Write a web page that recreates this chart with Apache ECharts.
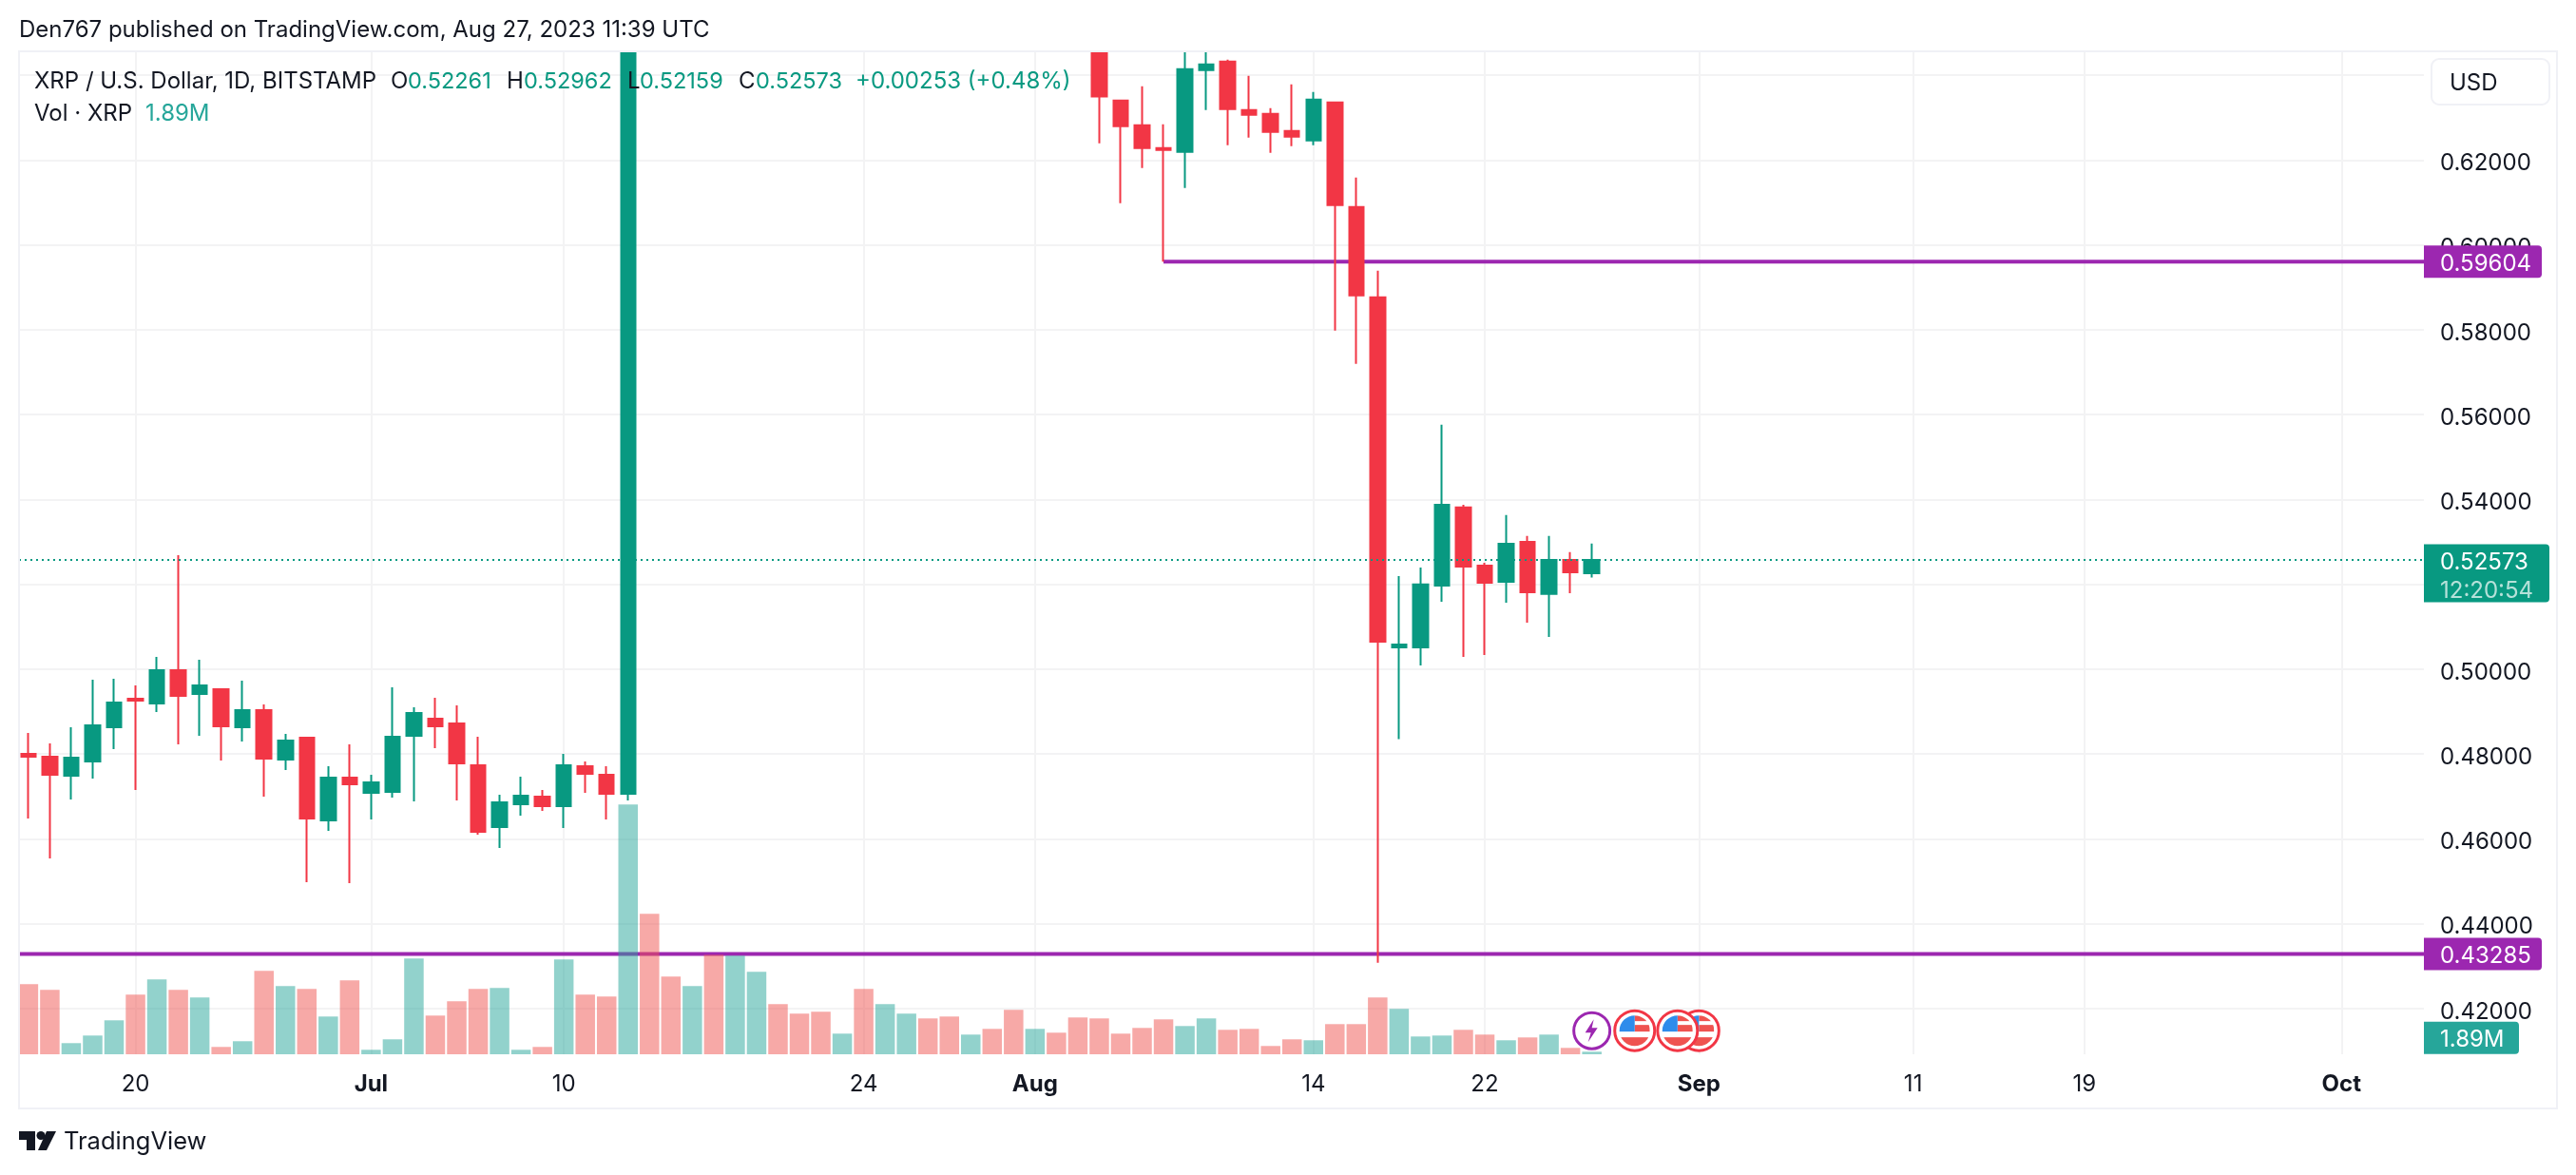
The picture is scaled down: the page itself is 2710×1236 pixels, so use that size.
<!DOCTYPE html>
<html>
<head>
<meta charset="utf-8">
<script src="https://cdn.jsdelivr.net/npm/echarts@6/dist/echarts.min.js"></script>
<style>
  html, body { margin: 0; background: #fff; }
  #chart { width: 2710px; height: 1236px; }
</style>
</head>
<body>
<div id="chart"></div>
<script>
// day numbers count from Jun 15 2023; candles for days 29-49 are above the visible price range
const candleDays = [0,1,2,3,4,5,6,7,8,9,10,11,12,13,14,15,16,17,18,19,20,21,22,23,24,25,26,27,28,
  50,51,52,53,54,55,56,57,58,59,60,61,62,63,64,65,66,67,68,69,70,71,72,73];
const opens = [.48006,.47938,.4749,.47826,.48633,.49305,.49193,.49978,.49417,.4953,.48633,.49037,.47871,.48387,.46437,.47445,.47087,.47109,.48431,.48835,.48723,.47737,.4628,.46818,.46997,.46773,.47714,.47513,.47064,
  .648,.63402,.62819,.62281,.62191,.64119,.6432,.63177,.63088,.62684,.6246,.63357,.60892,.58763,.50516,.50516,.51972,.5381,.52443,.52062,.53003,.51771,.52577,.52261];
const closes = [.47938,.47513,.47916,.48678,.49216,.49261,.49978,.49373,.49619,.48656,.49037,.47894,.48319,.46482,.47445,.47289,.47333,.48409,.48969,.48656,.47782,.46168,.46863,.4702,.46773,.47737,.47535,.47064,.8,
  .63499,.62797,.62281,.62237,.64141,.64253,.632,.63065,.62662,.6255,.63424,.60936,.58807,.5065,.50583,.51995,.53877,.5242,.52039,.52958,.51815,.52577,.52286,.52573];
const lows = [.46482,.45541,.4693,.47423,.48118,.47154,.48992,.4823,.48431,.47849,.48297,.46997,.47625,.4498,.4619,.44958,.46459,.46975,.46885,.4814,.46908,.46101,.45787,.46549,.46661,.46258,.47087,.46459,.46908,
  .62393,.60981,.6181,.59604,.6134,.63177,.62348,.62528,.62169,.62326,.62348,.5798,.57194,.4308,.4835,.5009,.51591,.50291,.50336,.51569,.51098,.50762,.51793,.52159];
const highs = [.48499,.48252,.48633,.49754,.49776,.49619,.50291,.52689,.50224,.4953,.49731,.49171,.48476,.48387,.47714,.4823,.47513,.49574,.49104,.49328,.49149,.48409,.47042,.47468,.47154,.48006,.47826,.47714,.93,
  .652,.63424,.63738,.62841,.6475,.6465,.64365,.63984,.63222,.63783,.63603,.63379,.61586,.5939,.52196,.52398,.5576,.53877,.5251,.53631,.53138,.53138,.52757,.52962];

// volume in millions, one per day from day 0 to day 73
const volumes = [51.6,47.4,8.2,13.8,25,43.9,55.1,47.4,41.8,5.4,9.6,61.4,50.2,48.1,27.8,54.4,3.3,11,70.5,28.5,39,48.1,48.8,3.3,5.4,69.8,43.9,42.5,183.9,103.4,
  57.2,50.2,73.3,72.6,60.7,36.9,29.9,31.3,15.2,48.1,36.9,29.9,26.4,27.8,14.5,18.7,32.7,18.7,15.9,27.1,26.4,15.2,19.4,25.7,20.8,26.4,18,18.7,6.1,11,
  10.3,22.2,22.2,41.8,33.4,13.1,13.8,18,14.5,10.3,12.4,14.5,4.7,1.89];
const volumeUp = [0,0,1,1,1,0,1,0,1,0,1,0,1,0,1,0,1,1,1,0,0,0,1,1,0,1,0,0,1,0,
  0,1,0,1,1,0,0,0,1,0,1,1,0,0,1,0,0,1,0,0,0,0,0,0,1,1,0,0,0,0,
  1,0,0,0,1,1,1,0,0,1,0,1,0,1];

const xTickDays = [5,16,25,39,47,60,68,78,88,96,108];
const xTickLabels = ['20','Jul','10','24','Aug','14','22','Sep','11','19','Oct'];
const monthLabels = ['Jul','Aug','Sep','Oct'];
const priceGrid = [.42,.44,.46,.48,.5,.52,.54,.56,.58,.6,.62,.64];
const priceLabels = [.42,.44,.46,.48,.5,.52,.54,.56,.58,.6,.62];

const upperLevel = 0.59604, upperLevelStart = 53;
const lowerLevel = 0.43285;
const lastPrice = 0.52573, countdown = '12:20:54', lastVolume = '1.89M';
const boltDay = 73, flagDays = [78,77,75], eventPrice = 0.4148;

const GREEN = '#089981', RED = '#F23645', PURPLE = '#9C27B0', TEAL = '#26A69A', INK = '#131722';
const FONT = 'Inter';
const xMin = -0.439, xMax = 111.85;

function flagSvg() {
  return 'image://data:image/svg+xml,' + encodeURIComponent(
    '<svg xmlns="http://www.w3.org/2000/svg" width="92" height="92" viewBox="0 0 46 46">' +
    '<defs><clipPath id="c"><circle cx="23" cy="23" r="16"/></clipPath></defs>' +
    '<circle cx="23" cy="23" r="21" fill="#fff" stroke="#F23645" stroke-width="3"/>' +
    '<g clip-path="url(#c)"><rect x="23" y="7" width="16" height="6" fill="#EF5350"/>' +
    '<rect x="23" y="17" width="16" height="7" fill="#EF5350"/>' +
    '<rect x="5" y="30" width="36" height="10" fill="#EF5350"/>' +
    '<rect x="5" y="5" width="18" height="19" fill="#2F8CEB"/></g></svg>');
}
function boltSvg() {
  return 'image://data:image/svg+xml,' + encodeURIComponent(
    '<svg xmlns="http://www.w3.org/2000/svg" width="84" height="84" viewBox="0 0 42 42">' +
    '<circle cx="21" cy="21" r="19" fill="#fff" stroke="#9C27B0" stroke-width="3"/>' +
    '<path d="M23 9 L14 23 L20 23 L17 33 L27 18 L21 18 Z" fill="#9C27B0"/></svg>');
}

function txt(x, y, text, fill, size, weight) {
  return {
    type: 'text', x: x, y: y, z: 50,
    style: { text: text, fill: fill, font: (weight || 400) + ' ' + size + 'px ' + FONT, verticalAlign: 'middle' }
  };
}

const chart = echarts.init(document.getElementById('chart'));

const candleData = candleDays.map((d, i) => [d, opens[i], closes[i], lows[i], highs[i]]);
const volumeData = volumes.map((v, i) => ({
  value: [i, v],
  itemStyle: { color: volumeUp[i] ? 'rgba(38,166,154,0.5)' : 'rgba(239,83,80,0.5)' }
}));

function priceTag(y, text, bg, w, h, rich, offset) {
  return {
    value: [xMax, y],
    label: {
      show: true, position: 'right', distance: 0, offset: offset || [0, 0],
      formatter: text, backgroundColor: bg, color: '#fff', fontFamily: FONT, fontSize: 24,
      padding: [4, 0, 0, 17], width: w, height: h - 4, lineHeight: 30, align: 'left',
      verticalAlign: 'middle', borderRadius: [0, 4, 4, 0], rich: rich || {}
    }
  };
}

chart.setOption({
  animation: false,
  backgroundColor: '#fff',
  grid: { left: 20, right: 160, top: 55, bottom: 127, containLabel: false },
  xAxis: {
    type: 'value', min: xMin, max: xMax,
    axisLine: { show: false },
    axisTick: { show: false, customValues: xTickDays },
    splitLine: { show: true, lineStyle: { color: '#F3F3F4', width: 2 } },
    axisLabel: {
      customValues: xTickDays, margin: 20, color: INK, fontFamily: FONT, fontSize: 24,
      formatter: v => {
        const s = xTickLabels[xTickDays.indexOf(v)];
        return monthLabels.includes(s) ? '{b|' + s + '}' : s;
      },
      rich: { b: { fontFamily: FONT, fontSize: 24, fontWeight: 700, color: INK } }
    }
  },
  yAxis: [{
    type: 'value', position: 'right', min: 0.40923, max: 0.6454,
    axisLine: { show: false },
    axisTick: { show: false, customValues: priceGrid },
    splitLine: { show: true, lineStyle: { color: '#F3F3F4', width: 2 } },
    axisLabel: {
      customValues: priceLabels, margin: 17,
      formatter: v => '{p|' + v.toFixed(5) + '}',
      rich: { p: { color: INK, fontFamily: FONT, fontSize: 24, padding: [7, 0, 0, 0] } }
    }
  }, {
    type: 'value', min: 0, max: 738, show: false, splitLine: { show: false }
  }],
  series: [
    {
      type: 'line', z: 1, symbol: 'none', silent: true,
      lineStyle: { color: PURPLE, width: 4 },
      data: [[upperLevelStart, upperLevel], [xMax, upperLevel]]
    },
    {
      type: 'line', z: 1, symbol: 'none', silent: true,
      lineStyle: { color: PURPLE, width: 4 },
      data: [[xMin, lowerLevel], [xMax, lowerLevel]]
    },
    { type: 'bar', z: 2, yAxisIndex: 1, barWidth: 20.5, data: volumeData },
    {
      type: 'candlestick', z: 3, barWidth: 16,
      itemStyle: { color: GREEN, color0: RED, borderColor: GREEN, borderColor0: RED, borderWidth: 2 },
      data: candleData
    },
    {
      type: 'line', z: 4, symbol: 'none', silent: true,
      lineStyle: { color: GREEN, width: 2, type: [2, 4] },
      data: [[xMin, lastPrice], [xMax, lastPrice]]
    },
    {
      type: 'scatter', z: 5, symbolSize: 0, clip: false, silent: true,
      itemStyle: { opacity: 1 },
      data: [
        priceTag(upperLevel, upperLevel.toFixed(5), PURPLE, 107, 34),
        priceTag(lowerLevel, lowerLevel.toFixed(5), PURPLE, 107, 34),
        priceTag(lastPrice, '{p|' + lastPrice.toFixed(5) + '}\n{t|' + countdown + '}', GREEN, 115, 61, {
          p: { color: '#fff', fontFamily: FONT, fontSize: 24, lineHeight: 30 },
          t: { color: 'rgba(255,255,255,0.7)', fontFamily: FONT, fontSize: 24, lineHeight: 30 }
        }, [0, 14]),
        priceTag(0.41312, lastVolume, TEAL, 83, 34)
      ]
    },
    {
      type: 'scatter', z: 6, symbol: flagSvg(), symbolSize: 46, silent: true,
      itemStyle: { opacity: 1 },
      data: flagDays.map(d => [d, eventPrice])
    },
    {
      type: 'scatter', z: 6, symbol: boltSvg(), symbolSize: 42, silent: true,
      itemStyle: { opacity: 1 },
      data: [[boltDay, eventPrice]]
    }
  ],
  graphic: [
    // candles taller than the pane are only cut off by this strip
    { type: 'rect', z: 30, shape: { x: 0, y: 0, width: 2710, height: 54 }, style: { fill: '#fff' }, silent: true },
    { type: 'rect', z: 40, shape: { x: 20, y: 54, width: 2670, height: 1112 }, style: { fill: 'none', stroke: '#F0F1F6', lineWidth: 2 }, silent: true },
    { type: 'rect', z: 41, shape: { x: 2558, y: 62, width: 124, height: 48, r: 8 }, style: { fill: '#fff', stroke: '#F0F1F6', lineWidth: 2 }, silent: true },
    txt(2577, 88, 'USD', INK, 24),
    txt(20, 32, 'Den767 published on TradingView.com, Aug 27, 2023 11:39 UTC', INK, 24),
    txt(36, 86, 'XRP / U.S. Dollar, 1D, BITSTAMP', INK, 24),
    txt(411, 86, 'O', INK, 24), txt(429, 86, '0.52261', GREEN, 23.5),
    txt(533, 86, 'H', INK, 24), txt(551, 86, '0.52962', GREEN, 23.5),
    txt(660, 86, 'L', INK, 24), txt(673, 86, '0.52159', GREEN, 23.5),
    txt(777, 86, 'C', INK, 24), txt(795, 86, '0.52573', GREEN, 23.5),
    txt(900, 86, '+0.00253 (+0.48%)', GREEN, 24),
    txt(36, 120, 'Vol · XRP', INK, 24), txt(153, 120, '1.89M', TEAL, 24),
    { type: 'polygon', z: 50, shape: { points: [[20,1190],[37,1190],[37,1210],[28,1210],[28,1199],[20,1199]] }, style: { fill: INK } },
    { type: 'circle', z: 50, shape: { cx: 43, cy: 1194.5, r: 4.5 }, style: { fill: INK } },
    { type: 'polygon', z: 50, shape: { points: [[49,1190],[59,1190],[49,1210],[40,1210]] }, style: { fill: INK } },
    txt(67, 1201, 'TradingView', INK, 25.5)
  ]
});
</script>
</body>
</html>
